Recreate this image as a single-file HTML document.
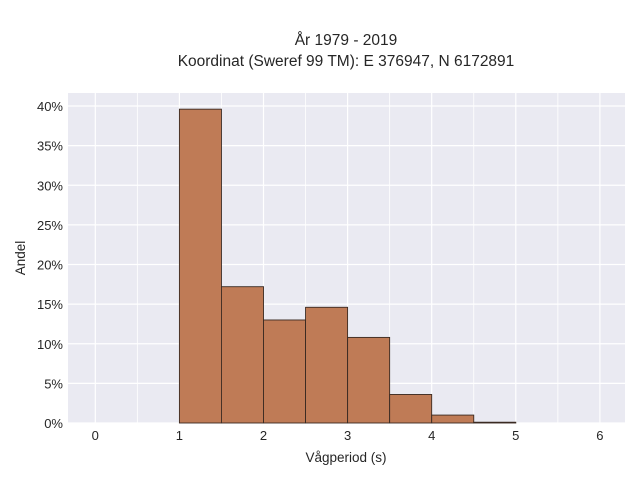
<!DOCTYPE html>
<html><head><meta charset="utf-8"><style>
body{margin:0;background:#fff;font-family:"Liberation Sans",sans-serif;}
svg text{font-family:"Liberation Sans",sans-serif;fill:#262626;}
</style></head><body>
<svg width="640" height="480">
<text x="346" y="45" font-size="15.5" text-anchor="middle">År 1979 - 2019</text>
<text x="346" y="66" font-size="15.5" text-anchor="middle">Koordinat (Sweref 99 TM): E 376947, N 6172891</text>
<rect x="68" y="93" width="557" height="330" fill="#eaeaf2"/>
<g id="grid"></g><g id="bars"></g><g id="ticks"></g>
<text x="346" y="462" font-size="13.5" text-anchor="middle">Vågperiod (s)</text>
<text transform="translate(25,258) rotate(-90)" font-size="13.5" text-anchor="middle">Andel</text>
</svg>
<script>
const binStarts=[1,1.5,2,2.5,3,3.5,4,4.5];
const shares=[39.6,17.2,13.0,14.6,10.8,3.6,1.0,0.1];
const xTicks=[0,1,2,3,4,5,6];
const yTicks=[0,5,10,15,20,25,30,35,40];
const binWidth=0.5;
const X=v=>95.3+v*84.1, Y=v=>423-v*7.925;
const ns="http://www.w3.org/2000/svg";
function mk(t,a,p){const e=document.createElementNS(ns,t);for(const k in a)e.setAttribute(k,a[k]);p.appendChild(e);return e;}
const g=document.getElementById('grid'),b=document.getElementById('bars'),tk=document.getElementById('ticks');
for(let v=-0.5;v<=6.5;v+=0.5){const x=X(v);if(x<68||x>625)continue;
 const l=mk('line',{x1:x,x2:x,y1:93,y2:423,stroke:'#fff','stroke-width':Number.isInteger(v)?1.2:0.8},g);
 }
yTicks.forEach(v=>{const l=mk('line',{x1:68,x2:625,y1:Y(v),y2:Y(v),stroke:'#fff','stroke-width':1.2},g);
 
 const t=mk('text',{x:63,y:Y(v)+5,'font-size':13,'text-anchor':'end'},tk);t.textContent=v+'%';
 });
xTicks.forEach(v=>{const t=mk('text',{x:X(v),y:440,'font-size':13,'text-anchor':'middle'},tk);t.textContent=v;
 });
binStarts.forEach((s,i)=>{const r=mk('rect',{x:X(s),y:Y(shares[i]),width:X(s+binWidth)-X(s),height:Y(0)-Y(shares[i]),fill:'#bf7b56',stroke:'#3a2a22','stroke-width':0.9},b);
 });
</script>
</body></html>
